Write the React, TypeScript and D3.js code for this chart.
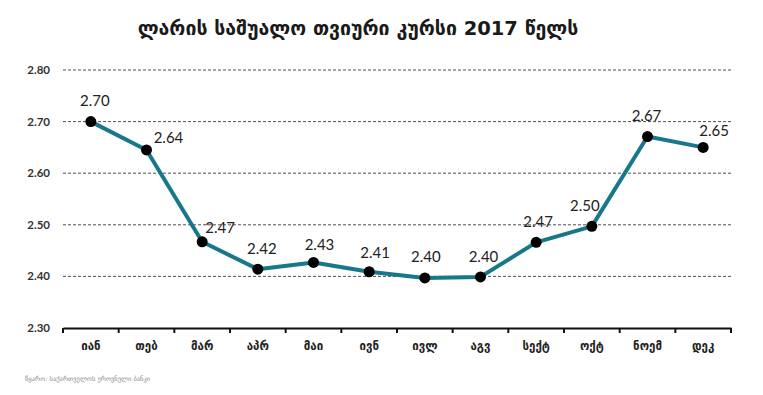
import React, { useEffect, useRef } from 'react';
import * as d3 from 'd3';

const months = ['იან', 'თებ', 'მარ', 'აპრ', 'მაი', 'ივნ', 'ივლ', 'აგვ', 'სექტ', 'ოქტ', 'ნოემ', 'დეკ'];
const rates = [2.70, 2.645, 2.467, 2.414, 2.427, 2.409, 2.397, 2.399, 2.466, 2.497, 2.671, 2.650];
const rateLabels = ['2.70', '2.64', '2.47', '2.42', '2.43', '2.41', '2.40', '2.40', '2.47', '2.50', '2.67', '2.65'];
const yTicks = [2.3, 2.4, 2.5, 2.6, 2.7, 2.8];

const title = 'ლარის საშუალო თვიური კურსი 2017 წელს';
const source = 'წყარო: საქართველოს ეროვნული ბანკი';

// per-label nudges so the numbers don't sit on the line
const labelNudge: [number, number][] = [
  [4, -21], [22, -12], [18, -14], [4, -20], [6, -18], [6, -19],
  [1, -21], [3, -20], [2, -21], [-7, -21], [-1, -21], [11, -17],
];

const W = 763;
const H = 395;

const LineChart = () => {
  const svgRef = useRef<SVGSVGElement | null>(null);

  useEffect(() => {
    if (!svgRef.current) return;
    const svg = d3.select(svgRef.current);
    svg.selectAll('*').remove();

    const margin = { top: 70, right: 32, bottom: 67, left: 63 };
    const width = W - margin.left - margin.right;
    const height = H - margin.top - margin.bottom;

    svg.append('rect').attr('width', W).attr('height', H).attr('fill', '#fff');

    // Title
    svg.append('text')
      .attr('x', 358)
      .attr('y', 35)
      .attr('text-anchor', 'middle')
      .attr('font-family', '"DejaVu Sans", sans-serif')
      .attr('font-size', 19.5)
      .attr('font-weight', 'bold')
      .attr('fill', '#1a1a1a')
      .text(title);

    const g = svg.append('g').attr('transform', `translate(${margin.left},${margin.top})`);

    const x = d3.scaleBand().domain(months).range([0, width]);
    const y = d3.scaleLinear().domain([2.3, 2.8]).range([height, 0]);

    // Gridlines
    g.selectAll('line.grid')
      .data(yTicks.filter(t => t > 2.3))
      .join('line')
      .attr('class', 'grid')
      .attr('x1', 0)
      .attr('x2', width + 2)
      .attr('y1', d => y(d))
      .attr('y2', d => y(d))
      .attr('stroke', '#222')
      .attr('stroke-width', 0.8)
      .attr('stroke-dasharray', '3,2');

    // Y tick labels
    g.selectAll('text.ytick')
      .data(yTicks)
      .join('text')
      .attr('class', 'ytick')
      .attr('x', -13)
      .attr('y', d => y(d))
      .attr('dy', '0.35em')
      .attr('text-anchor', 'end')
      .attr('font-family', 'Lato, sans-serif')
      .attr('font-size', 11.5)
      .attr('font-weight', 'bold')
      .attr('fill', '#333')
      .text(d => d.toFixed(2));

    // X axis
    const xAxis = g.append('g')
      .attr('transform', `translate(0,${height})`)
      .call(d3.axisBottom(x).tickSize(0).tickPadding(14));
    xAxis.select('.domain').attr('stroke', '#111').attr('stroke-width', 2);
    xAxis.selectAll('text')
      .attr('font-family', '"DejaVu Sans", sans-serif')
      .attr('font-size', 11.5)
      .attr('font-weight', 'bold')
      .attr('fill', '#222');

    const bounds = [0, ...months.map(m => (x(m) as number) + x.bandwidth())];
    g.selectAll('line.xtick')
      .data(bounds)
      .join('line')
      .attr('class', 'xtick')
      .attr('x1', d => d)
      .attr('x2', d => d)
      .attr('y1', height)
      .attr('y2', height + 5)
      .attr('stroke', '#111')
      .attr('stroke-width', 2);

    const cx = (i: number) => (x(months[i]) as number) + x.bandwidth() / 2;

    // Line
    const line = d3.line<number>()
      .x((_, i) => cx(i))
      .y(d => y(d));
    g.append('path')
      .datum(rates)
      .attr('fill', 'none')
      .attr('stroke', '#17788a')
      .attr('stroke-width', 4)
      .attr('stroke-linejoin', 'round')
      .attr('d', line);

    // Points
    g.selectAll('circle.pt')
      .data(rates)
      .join('circle')
      .attr('class', 'pt')
      .attr('cx', (_, i) => cx(i))
      .attr('cy', d => y(d))
      .attr('r', 5.5)
      .attr('fill', '#000');

    // Value labels
    g.selectAll('text.val')
      .data(rates)
      .join('text')
      .attr('class', 'val')
      .attr('x', (_, i) => cx(i) + labelNudge[i][0])
      .attr('y', (d, i) => y(d) + labelNudge[i][1])
      .attr('dy', '0.35em')
      .attr('text-anchor', 'middle')
      .attr('font-family', 'Lato, sans-serif')
      .attr('font-size', 15)
      .attr('fill', '#222')
      .text((_, i) => rateLabels[i]);

    // Source
    svg.append('text')
      .attr('x', 25)
      .attr('y', 381)
      .attr('font-family', '"DejaVu Sans", sans-serif')
      .attr('font-size', 6.5)
      .attr('fill', '#8a8a8a')
      .text(source);
  }, []);

  return (
    <svg
      ref={svgRef}
      width={W}
      height={H}
      style={{ position: 'absolute', left: 0, top: 0, display: 'block' }}
    />
  );
};

export default function App() {
  return <LineChart />;
}
